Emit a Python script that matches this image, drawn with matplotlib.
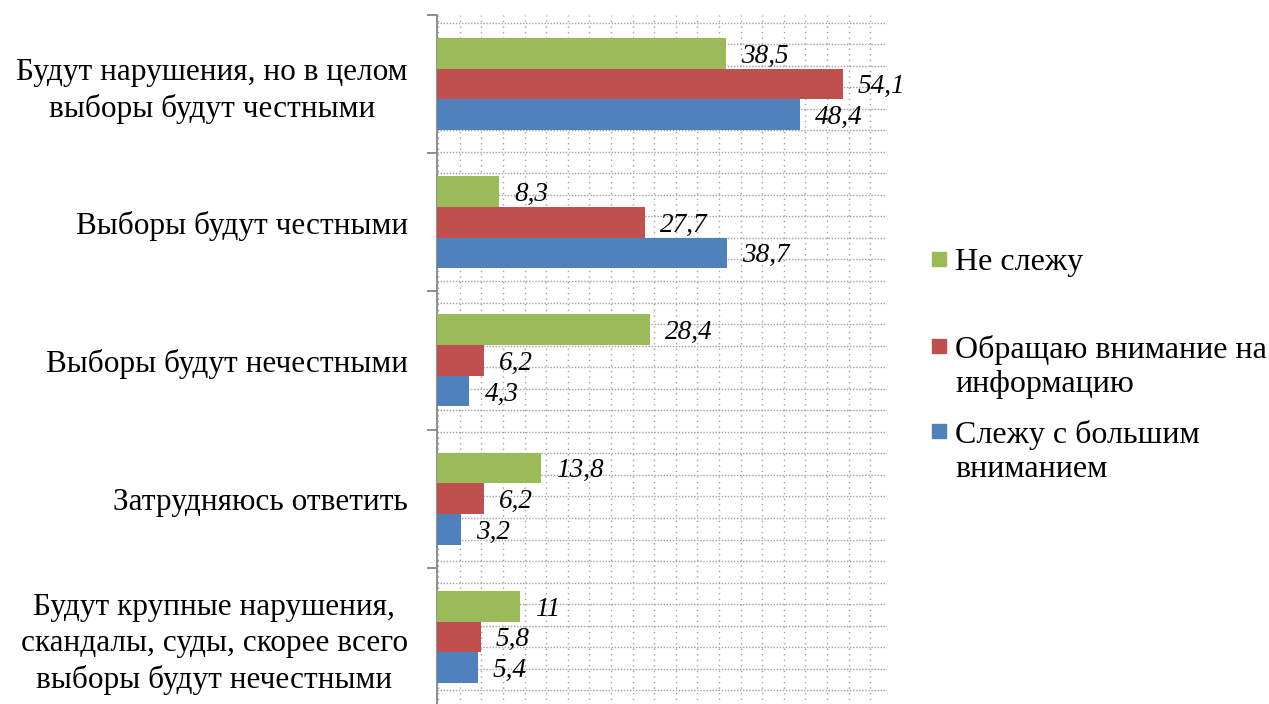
import numpy as np
import matplotlib
matplotlib.use('Agg')
from matplotlib import pyplot as plt
from matplotlib.patches import Rectangle

categories = ['Будут нарушения, но в целом\nвыборы будут честными',
              'Выборы будут честными',
              'Выборы будут нечестными',
              'Затрудняюсь ответить',
              'Будут крупные нарушения,\nскандалы, суды, скорее всего\nвыборы будут нечестными']
series_names = ['Не слежу',
                'Обращаю внимание на\nинформацию',
                'Слежу с большим\nвниманием']
ne_slezhu = [38.5, 8.3, 28.4, 13.8, 11.0]
obrashchayu = [54.1, 27.7, 6.2, 6.2, 5.8]
slezhu = [48.4, 38.7, 4.3, 3.2, 5.4]
colors = ['#9BBB59', '#C0504D', '#4F81BD']

plt.rcParams['font.family'] = ['Liberation Serif', 'DejaVu Serif']
W, H = 1269, 704
fig = plt.figure(figsize=(W / 100, H / 100), dpi=100)
ax = fig.add_axes([437 / W, -0.003, 450 / W, 0.982])

n = len(categories)
ypos = np.arange(n)[::-1]  # first category on top
bh = 0.222
values = [ne_slezhu, obrashchayu, slezhu]
offsets = [bh, 0, -bh]
for vals, off, col in zip(values, offsets, colors):
    bars = ax.barh(ypos + off, vals, height=bh, color=col, edgecolor='none', zorder=3)
    for b, v in zip(bars, vals):
        ax.annotate(f'{v:g}'.replace('.', ','), (b.get_width(), b.get_y() + b.get_height() / 2),
                    xytext=(11, -2), textcoords='offset points', ha='left', va='center',
                    fontsize=19.5, style='italic', zorder=4)

ax.set_xlim(0, 60)
ax.set_ylim(-0.5, n - 0.5)

# dotted pattern of the plot area
for gx in np.arange(0.17, 60, 2.88):
    ax.axvline(gx, color='#A0A0A0', lw=1.0, ls=(0, (1, 3)), zorder=1)
for gy in np.arange(n - 0.5 - 0.056, -0.5, -0.1558):
    ax.axhline(gy, color='#A0A0A0', lw=1.0, ls=(0, (1, 1.2)), zorder=1)

ax.set_yticks(np.arange(-0.5, n, 1.0))
ax.set_yticklabels([])
ax.set_yticks(ypos, minor=True)
ax.set_yticklabels(categories, minor=True, fontsize=22.5, multialignment='center', linespacing=1.3)
ax.tick_params(axis='y', which='major', length=7, width=1.3, color='#868686', direction='out')
ax.tick_params(axis='y', which='minor', length=0, pad=21)
ax.set_xticks([])
for s in ['top', 'right', 'bottom']:
    ax.spines[s].set_visible(False)
ax.spines['left'].set_color('#868686')
ax.spines['left'].set_linewidth(1.3)

# legend
leg_y = [259, 346, 431]
for name, col, yc in zip(series_names, colors, leg_y):
    fig.patches.append(Rectangle((932 / W, 1 - (yc + 7) / H), 14 / W, 14 / H,
                                 transform=fig.transFigure, color=col))
    fig.text(955 / W, 1 - (yc - 11) / H, name, fontsize=23, va='top', ha='left', linespacing=1.24)

plt.savefig('out.png', dpi=100)
